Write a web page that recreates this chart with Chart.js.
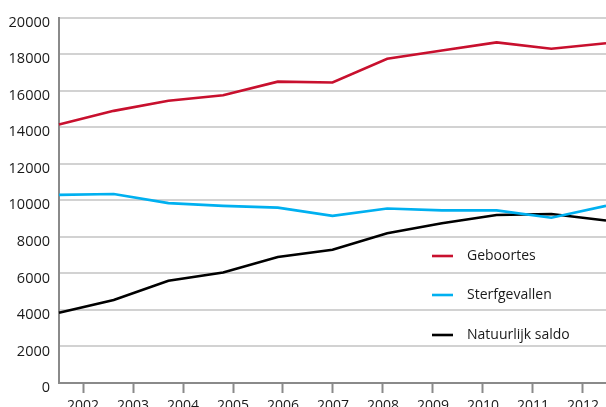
<!DOCTYPE html>
<html>
<head>
<meta charset="utf-8">
<script src="https://cdn.jsdelivr.net/npm/chart.js@4.4.1/dist/chart.umd.min.js"></script>
<style>
  html, body { margin: 0; padding: 0; background: #ffffff; }
  #wrap { width: 606px; height: 407px; position: relative; }
</style>
</head>
<body>
<div id="wrap"><canvas id="c" width="606" height="407"></canvas></div>
<script>
const years = ['2002','2003','2004','2005','2006','2007','2008','2009','2010','2011','2012'];
const yearTicks = [2002, 2003, 2004, 2005, 2006, 2007, 2008, 2009, 2010, 2011, 2012];
const geboortes = [14150, 14900, 15450, 15750, 16500, 16450, 17750, 18200, 18650, 18300, 18600];
const sterfgevallen = [10300, 10350, 9850, 9700, 9600, 9150, 9550, 9450, 9450, 9050, 9700];
const natuurlijkSaldo = [3850, 4550, 5600, 6050, 6900, 7300, 8200, 8750, 9200, 9250, 8900];
const seriesNames = ['Geboortes', 'Sterfgevallen', 'Natuurlijk saldo'];
const seriesColors = ['#c8102e', '#00b0f0', '#000000'];

const FONT = "'Open Sans', 'Noto Sans', sans-serif";

const insideLegend = {
  id: 'insideLegend',
  afterDatasetsDraw(chart) {
    const ctx = chart.ctx;
    const x0 = 432, x1 = 453, tx = 467;
    const rows = [256, 295, 335];
    ctx.save();
    ctx.font = "14px " + FONT;
    ctx.textBaseline = 'middle';
    ctx.textAlign = 'left';
    chart.data.datasets.forEach((ds, i) => {
      ctx.strokeStyle = ds.borderColor;
      ctx.lineWidth = 2.6;
      ctx.beginPath();
      ctx.moveTo(x0, rows[i]);
      ctx.lineTo(x1, rows[i]);
      ctx.stroke();
      ctx.fillStyle = '#1a1a1a';
      ctx.fillText(ds.label, tx, rows[i]);
    });
    ctx.restore();
  }
};

new Chart(document.getElementById('c'), {
  type: 'line',
  data: {
    labels: years,
    datasets: [
      { label: seriesNames[0], data: geboortes, borderColor: seriesColors[0] },
      { label: seriesNames[1], data: sterfgevallen, borderColor: seriesColors[1] },
      { label: seriesNames[2], data: natuurlijkSaldo, borderColor: seriesColors[2] }
    ].map(d => Object.assign(d, { borderWidth: 2.6, pointRadius: 0, tension: 0, fill: false, xAxisID: 'x', yAxisID: 'y' }))
  },
  options: {
    responsive: false,
    animation: false,
    layout: { padding: { top: 15, right: 0, left: 0, bottom: 0 } },
    plugins: { legend: { display: false }, tooltip: { enabled: false } },
    scales: {
      x: {
        type: 'category',
        offset: false,
        display: false
      },
      xl: {
        type: 'linear',
        position: 'bottom',
        min: 2001.52,
        max: 2012.46,
        afterBuildTicks(scale) { scale.ticks = yearTicks.map(v => ({ value: v })); },
        afterFit(scale) { scale.height = 24; },
        grid: { display: true, drawOnChartArea: false, drawTicks: true, tickLength: 10, tickColor: '#8a8a8a', tickWidth: 2 },
        border: { display: true, color: '#8a8a8a', width: 2 },
        ticks: {
          autoSkip: false,
          maxRotation: 0,
          padding: 5,
          color: '#1a1a1a',
          font: { family: FONT, size: 14 },
          callback: v => String(v)
        }
      },
      y: {
        min: 0,
        max: 20000,
        afterFit(scale) { scale.width = 59; },
        grid: { color: '#d2d2d2', lineWidth: 2, drawTicks: false },
        border: { display: true, color: '#8a8a8a', width: 2 },
        ticks: {
          stepSize: 2000,
          padding: 9,
          labelOffset: 5,
          color: '#1a1a1a',
          font: { family: FONT, size: 14.5 },
          callback: v => String(v)
        }
      }
    }
  },
  plugins: [insideLegend]
});
</script>
</body>
</html>
